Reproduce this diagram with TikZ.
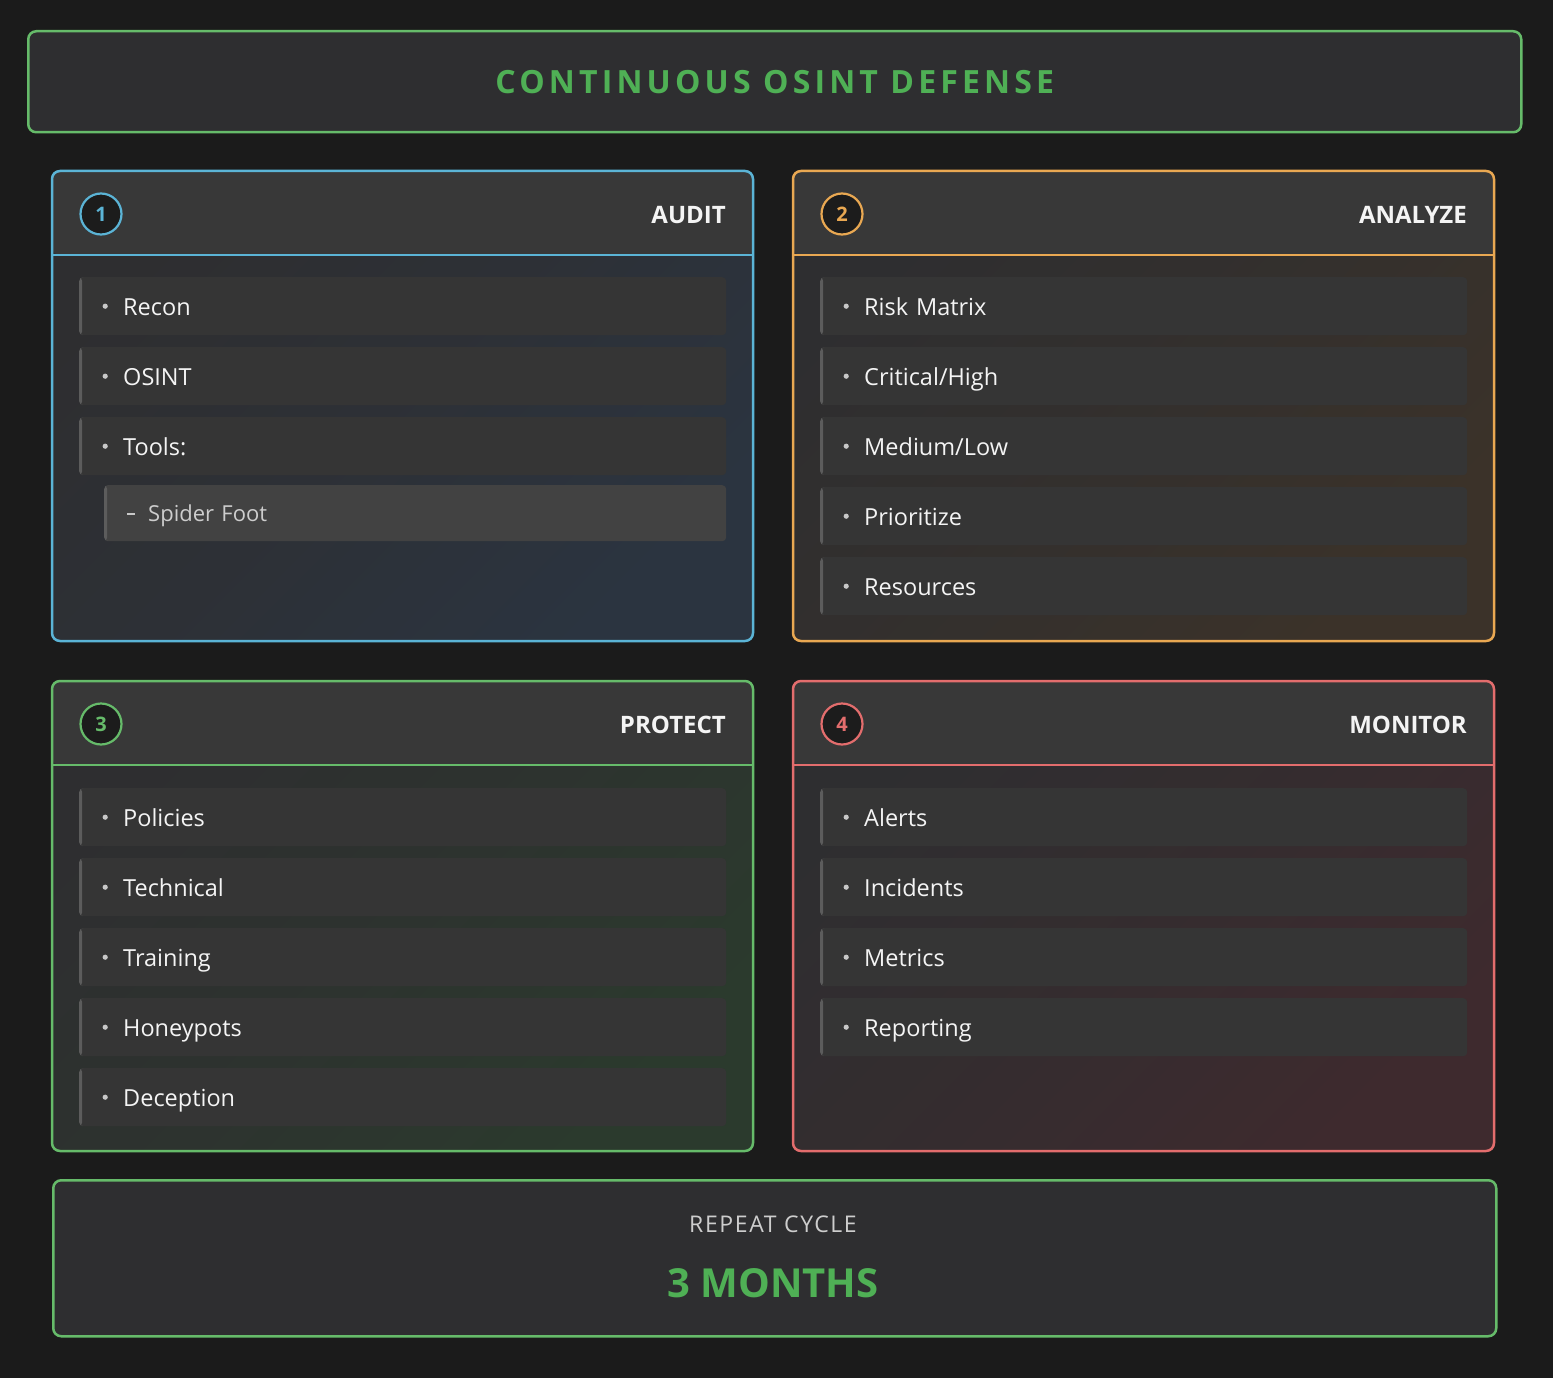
\documentclass[tikz,border=0pt]{standalone}
\usepackage{fontspec}
\setmainfont{Open Sans}
\newfontfamily\spacedfont[LetterSpace=13]{Open Sans}
\newfontfamily\widefont[LetterSpace=7]{Open Sans}
\definecolor{bgc}{HTML}{1B1B1B}
\definecolor{panelbase}{HTML}{2E2E30}
\definecolor{headfill}{HTML}{383838}
\definecolor{itemfill}{HTML}{353535}
\definecolor{itemedge}{HTML}{5C5C5C}
\definecolor{subfill}{HTML}{424242}
\definecolor{cblue}{HTML}{5BB4D6}
\definecolor{corange}{HTML}{E9A852}
\definecolor{cgreen}{HTML}{66BB6A}
\definecolor{cred}{HTML}{E36D6D}
\definecolor{tgreen}{HTML}{4FB055}
\definecolor{tblue}{HTML}{2B3440}
\definecolor{torange}{HTML}{3B3229}
\definecolor{tgreenb}{HTML}{2B3A2D}
\definecolor{tred}{HTML}{3E2A2E}
\definecolor{txt}{HTML}{F4F4F4}
\definecolor{subtxt}{HTML}{CDCDCD}
\definecolor{bulletc}{HTML}{C8C8C8}
\definecolor{circfill}{HTML}{1C1C1C}
\tikzset{
  x=1pt, y=-1pt,
  panelbox/.style={draw=#1, line width=2.5pt, rounded corners=8pt,
    minimum width=701pt, minimum height=470pt, anchor=north west, inner sep=0pt, outer sep=0pt,
    path picture={\fill[headfill] (path picture bounding box.north west) rectangle ([yshift=-84pt]path picture bounding box.north east);}},
  numcirc/.style={circle, draw=#1, fill=circfill, line width=2.2pt, minimum size=41pt, inner sep=0pt,
    text=#1, font=\fontsize{20}{24}\selectfont\bfseries},
  headtitle/.style={text=txt, font=\fontsize{24}{28}\selectfont\bfseries, inner sep=0pt, anchor=east},
  itembox/.style={fill=itemfill, rounded corners=4pt, minimum width=647pt, minimum height=58pt,
    text width=559pt, align=left, inner xsep=44pt, inner ysep=0pt, anchor=north west, text=txt,
    text height=22pt, text depth=4pt,
    font=\fontsize{23.5}{28}\selectfont,
    path picture={\fill[itemedge] (path picture bounding box.north west) rectangle ([xshift=3pt]path picture bounding box.south west);
      \fill[bulletc] ([xshift=26pt]path picture bounding box.west) circle (2.6pt);}},
  subbox/.style={fill=subfill, rounded corners=4pt, minimum width=622pt, minimum height=56pt,
    text width=534pt, align=left, inner xsep=44pt, inner ysep=0pt, anchor=north west, text=subtxt,
    text height=21pt, text depth=4pt,
    font=\fontsize{22}{26}\selectfont,
    path picture={\fill[itemedge] (path picture bounding box.north west) rectangle ([xshift=3pt]path picture bounding box.south west);
      \draw[bulletc, line width=1.6pt] ([xshift=23pt,yshift=-1pt]path picture bounding box.west) -- ([xshift=31pt,yshift=-1pt]path picture bounding box.west);}},
  framebox/.style={draw=cgreen, line width=2.5pt, rounded corners=8pt, fill=panelbase, anchor=north west, inner sep=0pt},
}
\newcommand\mkpanel[7]{%
  \node[panelbox=#4, top color=panelbase, bottom color=#5, middle color=panelbase!60!#5, shading angle=45] (#1) at (#2,#3) {};
  \draw[#4, line width=2pt] ([yshift=-84pt]#1.north west) -- ([yshift=-84pt]#1.north east);
  \node[numcirc=#4] (#1num) at ([xshift=49pt,yshift=-43pt]#1.north west) {#6};
  \node[headtitle] (#1title) at ([xshift=-27pt,yshift=-44pt]#1.north east) {#7};
}
\newcommand\mkitem[4]{\node[itembox] (#1) at (#2,#3) {#4};}
\begin{document}
\begin{tikzpicture}
\useasboundingbox (0,0) rectangle (1553,1378);
\fill[bgc] (0,0) rectangle (1553,1378);

% title
\node[framebox, minimum width=1493pt, minimum height=101pt] (titlebox) at (27,30) {};
\node[text=tgreen, font=\fontsize{32}{36}\selectfont\spacedfont\bfseries] (title) at ([yshift=0pt]titlebox.center) {CONTINUOUS OSINT DEFENSE};

% panels
\mkpanel{audit}{52}{171}{cblue}{tblue}{1}{AUDIT}
\mkpanel{analyze}{793}{171}{corange}{torange}{2}{ANALYZE}
\mkpanel{protect}{52}{681}{cgreen}{tgreenb}{3}{PROTECT}
\mkpanel{monitor}{793}{681}{cred}{tred}{4}{MONITOR}

% audit items
\mkitem{a1}{79}{277}{Recon}
\mkitem{a2}{79}{347}{OSINT}
\mkitem{a3}{79}{417}{Tools:}
\node[subbox] (a4) at (104,485) {Spider Foot};

% analyze items
\mkitem{b1}{820}{277}{Risk Matrix}
\mkitem{b2}{820}{347}{Critical/High}
\mkitem{b3}{820}{417}{Medium/Low}
\mkitem{b4}{820}{487}{Prioritize}
\mkitem{b5}{820}{557}{Resources}

% protect items
\mkitem{c1}{79}{788}{Policies}
\mkitem{c2}{79}{858}{Technical}
\mkitem{c3}{79}{928}{Training}
\mkitem{c4}{79}{998}{Honeypots}
\mkitem{c5}{79}{1068}{Deception}

% monitor items
\mkitem{d1}{820}{788}{Alerts}
\mkitem{d2}{820}{858}{Incidents}
\mkitem{d3}{820}{928}{Metrics}
\mkitem{d4}{820}{998}{Reporting}

% bottom
\node[framebox, minimum width=1443pt, minimum height=156pt] (cycle) at (52,1179) {};
\node[text=subtxt, font=\fontsize{23}{28}\selectfont\widefont] (cyclelabel) at (773,1224) {REPEAT CYCLE};
\node[text=tgreen, font=\fontsize{40}{46}\selectfont\bfseries] (cyclevalue) at (773,1283) {3 MONTHS};
\end{tikzpicture}
\end{document}
